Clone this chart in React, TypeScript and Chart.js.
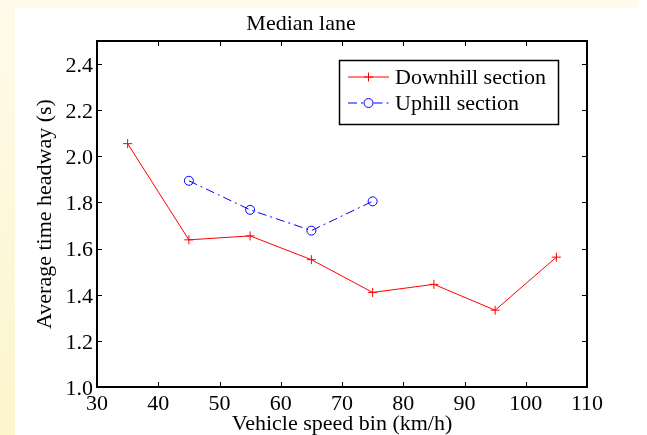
import React, { useEffect, useRef } from "react";
import { Chart, registerables } from "chart.js";

Chart.register(...registerables);

const speedBins = [35, 45, 55, 65, 75, 85, 95, 105];
const downhill = [2.055, 1.638, 1.655, 1.552, 1.41, 1.445, 1.333, 1.563];
const uphillBins = [45, 55, 65, 75];
const uphill = [1.894, 1.768, 1.678, 1.805];
const xTicks = [30, 40, 50, 60, 70, 80, 90, 100, 110];
const yTicks = [1.0, 1.2, 1.4, 1.6, 1.8, 2.0, 2.2, 2.4];

const FONT = "'Liberation Serif', 'Times New Roman', serif";

const framePlugin = {
  id: "frame",
  afterDraw(chart: any) {
    const { ctx, chartArea: a, scales } = chart;
    const xs = scales.x;
    const ys = scales.y;
    ctx.save();
    ctx.strokeStyle = "#000";
    ctx.lineWidth = 2;
    ctx.strokeRect(a.left, a.top, a.right - a.left, a.bottom - a.top);
    ctx.lineWidth = 1;
    const tl = 5;
    ctx.beginPath();
    xTicks.forEach((v) => {
      const px = Math.round(xs.getPixelForValue(v)) + 0.5;
      ctx.moveTo(px, a.bottom);
      ctx.lineTo(px, a.bottom - tl);
      ctx.moveTo(px, a.top);
      ctx.lineTo(px, a.top + tl);
    });
    yTicks.forEach((v) => {
      const py = Math.round(ys.getPixelForValue(v)) + 0.5;
      ctx.moveTo(a.left, py);
      ctx.lineTo(a.left + tl, py);
      ctx.moveTo(a.right, py);
      ctx.lineTo(a.right - tl, py);
    });
    ctx.stroke();

    // legend
    const bw = 219;
    const bh = 64;
    const bx = a.right - 29 - bw;
    const by = a.top + 19;
    ctx.fillStyle = "#fff";
    ctx.fillRect(bx, by, bw, bh);
    ctx.strokeStyle = "#000";
    ctx.lineWidth = 1.5;
    ctx.strokeRect(bx + 0.5, by + 0.5, bw, bh);
    const ds = chart.data.datasets;
    const rows = [by + 17, by + 43];
    ds.forEach((d: any, i: number) => {
      const y = rows[i];
      const x0 = bx + 9;
      const x1 = bx + 50;
      const xm = (x0 + x1) / 2;
      ctx.strokeStyle = d.borderColor;
      ctx.lineWidth = 1;
      ctx.setLineDash(d.borderDash || []);
      ctx.beginPath();
      if (i === 1) {
        ctx.moveTo(x0, y);
        ctx.lineTo(xm - 5, y);
        ctx.moveTo(xm + 5, y);
        ctx.lineTo(x1, y);
      } else {
        ctx.moveTo(x0, y);
        ctx.lineTo(x1, y);
      }
      ctx.stroke();
      ctx.setLineDash([]);
      ctx.beginPath();
      if (d.pointStyle === "circle") {
        ctx.arc(xm, y, 4.5, 0, Math.PI * 2);
      } else {
        ctx.moveTo(xm - 4.5, y);
        ctx.lineTo(xm + 4.5, y);
        ctx.moveTo(xm, y - 4.5);
        ctx.lineTo(xm, y + 4.5);
      }
      ctx.stroke();
      ctx.fillStyle = "#000";
      ctx.font = `22px ${FONT}`;
      ctx.textAlign = "left";
      ctx.textBaseline = "middle";
      ctx.fillText(d.label, bx + 56, y + 1);
    });
    ctx.restore();
  },
};

export default function App() {
  const ref = useRef<HTMLCanvasElement>(null);
  useEffect(() => {
    document.body.style.margin = "0";
    document.body.style.background = "linear-gradient(180deg, #fefbea 0%, #fdf5cc 100%)";
    document.body.style.height = "435px";
    document.body.style.overflow = "hidden";
    const chart = new Chart(ref.current!, {
      type: "line",
      data: {
        datasets: [
          {
            label: "Downhill section",
            data: speedBins.map((x, i) => ({ x, y: downhill[i] })),
            borderColor: "#ff0000",
            backgroundColor: "#ff0000",
            borderWidth: 1,
            pointStyle: "cross",
            pointRadius: 4.5,
            pointBorderWidth: 1,
            pointBorderColor: "#ff0000",
            tension: 0,
          },
          {
            label: "Uphill section",
            data: uphillBins.map((x, i) => ({ x, y: uphill[i] })),
            borderColor: "#0000ff",
            backgroundColor: "transparent",
            borderWidth: 1,
            borderDash: [9, 4, 2, 4],
            pointStyle: "circle",
            pointRadius: 4.5,
            pointBorderWidth: 1,
            pointBorderColor: "#0000ff",
            pointBackgroundColor: "rgba(0,0,0,0)",
            tension: 0,
          },
        ],
      },
      options: {
        animation: false,
        responsive: false,
        layout: { padding: { top: 0, right: 60, left: 0, bottom: 0 } },
        plugins: {
          legend: { display: false },
          tooltip: { enabled: false },
          title: {
            display: true,
            text: "Median lane",
            color: "#000",
            font: { family: FONT, size: 22, weight: "normal", lineHeight: 1 },
            padding: { top: 5, bottom: 6 },
          },
        },
        scales: {
          x: {
            type: "linear",
            min: 30,
            max: 110,
            grid: { display: false, drawTicks: false },
            border: { display: false },
            afterFit(scale: any) {
              scale.height = 48;
            },
            afterBuildTicks(scale: any) {
              scale.ticks = xTicks.map((v) => ({ value: v }));
            },
            ticks: {
              color: "#000",
              padding: 6,
              maxRotation: 0,
              autoSkip: false,
              font: { family: FONT, size: 22, lineHeight: 1 },
              callback: (v: any) => String(v),
            },
            title: {
              display: true,
              text: "Vehicle speed bin (km/h)",
              color: "#000",
              font: { family: FONT, size: 22, lineHeight: 1 },
              padding: { top: 0, bottom: 0 },
            },
          },
          y: {
            type: "linear",
            min: 1.0,
            max: 2.5,
            grid: { display: false, drawTicks: false },
            border: { display: false },
            afterFit(scale: any) {
              scale.width = 82;
            },
            afterBuildTicks(scale: any) {
              scale.ticks = yTicks.map((v) => ({ value: v }));
            },
            ticks: {
              color: "#000",
              padding: 4,
              labelOffset: 2,
              autoSkip: false,
              font: { family: FONT, size: 22, lineHeight: 1 },
              callback: (v: any) => Number(v).toFixed(1),
            },
            title: {
              display: true,
              text: "Average time headway (s)",
              color: "#000",
              font: { family: FONT, size: 22, lineHeight: 1 },
              padding: { top: 19, bottom: 0 },
            },
          },
        },
      },
      plugins: [framePlugin],
    });
    return () => chart.destroy();
  }, []);
  return (
    <div>
      <div style={{ position: "absolute", left: 638, top: 0, width: 9, height: 8, background: "#fff" }} />
      <div style={{ position: "absolute", left: 15, top: 8, width: 632, height: 427, background: "#fff" }}>
        <canvas ref={ref} width={632} height={427} style={{ display: "block" }} />
      </div>
    </div>
  );
}
